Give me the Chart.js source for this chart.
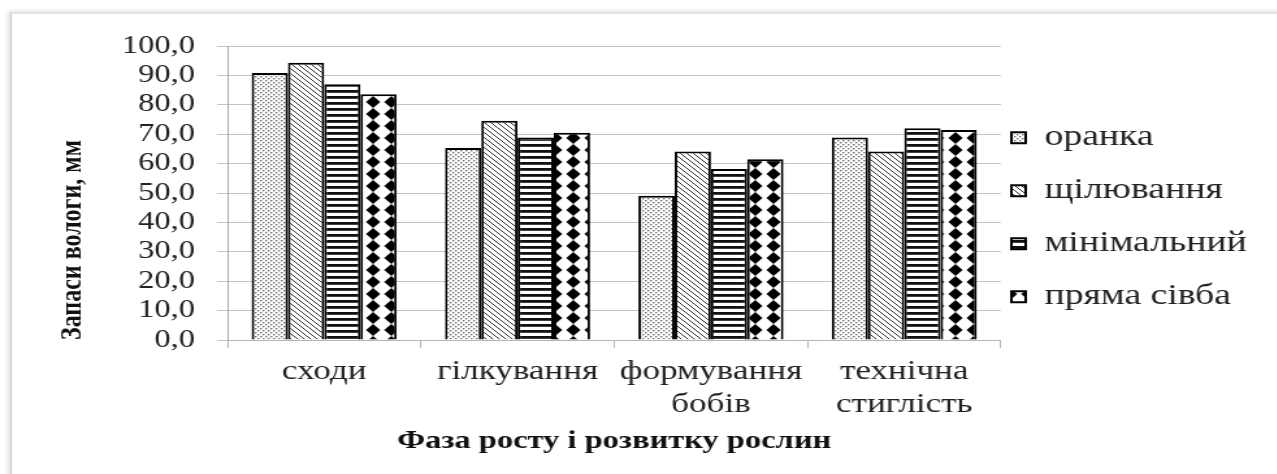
<!DOCTYPE html>
<html>
<head>
<meta charset="utf-8">
<script src="https://cdn.jsdelivr.net/npm/chart.js@4.4.1/dist/chart.umd.min.js"></script>
<style>
  html, body { margin: 0; padding: 0; background: #fff; overflow: hidden; }
  #frame {
    position: absolute; left: 10px; top: 12px; width: 1280px; height: 470px;
    border-left: 2px solid #d6d6d6; border-top: 2px solid #e2e2e2;
    box-shadow: -2px -1px 4px rgba(0, 0, 0, 0.12);
  }
  /* the source picture is stretched sideways, so the chart is drawn narrow and widened */
  #wrap {
    position: absolute; left: 0; top: 0; width: 982px; height: 474px;
    transform: scaleX(1.3); transform-origin: 0 0;
  }
</style>
</head>
<body>
<div id="frame"></div>
<div id="wrap"><canvas id="chart" width="982" height="474"></canvas></div>
<script>
// Phases of plant growth (x categories)
const phases = ['сходи', 'гілкування', ['формування', 'бобів'], ['технічна', 'стиглість']];

// Soil moisture reserves, mm, per tillage method
const oranka = [90.8, 65.3, 49.1, 68.9];
const shchiliuvannia = [94.3, 74.6, 64.1, 64.1];
const minimalnyi = [87.0, 68.9, 58.2, 72.0];
const priamaSivba = [83.6, 70.5, 61.5, 71.4];

const seriesNames = ['оранка', 'щілювання', 'мінімальний', 'пряма сівба'];

// y tick labels
const yMin = 0, yMax = 100, yStep = 10;

const serif = '"Liberation Serif", "Times New Roman", serif';

// Build a repeating fill from a small tile
function makePattern(w, h, draw) {
    const tile = document.createElement('canvas');
    tile.width = w;
    tile.height = h;
    const g = tile.getContext('2d');
    g.fillStyle = '#fff';
    g.fillRect(0, 0, w, h);
    draw(g);
    return document.getElementById('chart').getContext('2d').createPattern(tile, 'repeat');
}

// sparse grey dots
const dotFill = makePattern(4, 4, g => {
    g.fillStyle = '#6e6e6e';
    g.fillRect(0, 0, 1.4, 1.4);
    g.fillRect(2, 2, 1.4, 1.4);
});

// diagonal hatching, top-left to bottom-right
const hatchFill = makePattern(5, 5, g => {
    g.strokeStyle = '#333';
    g.lineWidth = 1;
    g.beginPath();
    g.moveTo(-1, -1); g.lineTo(6, 6);
    g.moveTo(-1, 4); g.lineTo(1, 6);
    g.moveTo(4, -1); g.lineTo(6, 1);
    g.stroke();
});

// horizontal black stripes
const stripeFill = makePattern(4, 6, g => {
    g.fillStyle = '#111';
    g.fillRect(0, 0, 4, 2.8);
});

// black diamonds
const diamondFill = makePattern(14, 12, g => {
    g.fillStyle = '#000';
    g.beginPath();
    g.moveTo(7, 0); g.lineTo(12.5, 6); g.lineTo(7, 12); g.lineTo(1.5, 6);
    g.closePath();
    g.fill();
});

function makeDataset(label, data, fill) {
    return {
        label: label,
        data: data,
        backgroundColor: fill,
        borderColor: '#000',
        borderWidth: 2,
        categoryPercentage: 0.75,
        barPercentage: 1.0
    };
}

// legend sits closer to the plot than Chart.js places it
const legendShift = {
    id: 'legendShift',
    afterLayout(chart) {
        chart.legend.left -= 16;
        chart.legend.right -= 16;
    }
};

new Chart(document.getElementById('chart'), {
    type: 'bar',
    data: {
        labels: phases,
        datasets: [
            makeDataset(seriesNames[0], oranka, dotFill),
            makeDataset(seriesNames[1], shchiliuvannia, hatchFill),
            makeDataset(seriesNames[2], minimalnyi, stripeFill),
            makeDataset(seriesNames[3], priamaSivba, diamondFill)
        ]
    },
    plugins: [legendShift],
    options: {
        responsive: false,
        devicePixelRatio: 1,
        animation: false,
        layout: { padding: { top: 46, right: -3, bottom: 0, left: 0 } },
        scales: {
            x: {
                afterFit: scale => { scale.height = 134; },
                grid: { display: true, drawOnChartArea: false, drawTicks: true, tickLength: 8, color: '#b5b5b5' },
                border: { display: true, color: '#b5b5b5' },
                ticks: { font: { family: serif, size: 27 }, color: '#222', padding: 8, maxRotation: 0 },
                title: {
                    display: true,
                    text: 'Фаза росту і розвитку рослин',
                    font: { family: serif, size: 25, weight: 'bold' },
                    color: '#111',
                    padding: { top: 0, bottom: 17 }
                }
            },
            y: {
                min: yMin,
                max: yMax,
                afterFit: scale => { scale.width = 175; },
                grid: { color: '#c4c4c4', tickLength: 8 },
                border: { display: true, color: '#aaa' },
                ticks: {
                    stepSize: yStep,
                    autoSkip: false,
                    font: { family: serif, size: 25 },
                    color: '#222',
                    padding: 17,
                    callback: value => value.toFixed(1).replace('.', ',')
                },
                title: {
                    display: true,
                    text: 'Запаси вологи, мм',
                    align: 'start',
                    font: { family: serif, size: 24, weight: 'bold' },
                    color: '#111',
                    padding: { top: 41, bottom: 0 }
                }
            }
        },
        plugins: {
            legend: {
                position: 'right',
                fullSize: false,
                // empty title only pushes the list down a little
                title: { display: true, text: '', font: { size: 12 }, padding: { top: 34, bottom: 0 } },
                labels: {
                    font: { family: serif, size: 29 },
                    color: '#222',
                    boxWidth: 11,
                    boxHeight: 11,
                    padding: 24
                }
            },
            tooltip: { enabled: false }
        }
    }
});
</script>
</body>
</html>
